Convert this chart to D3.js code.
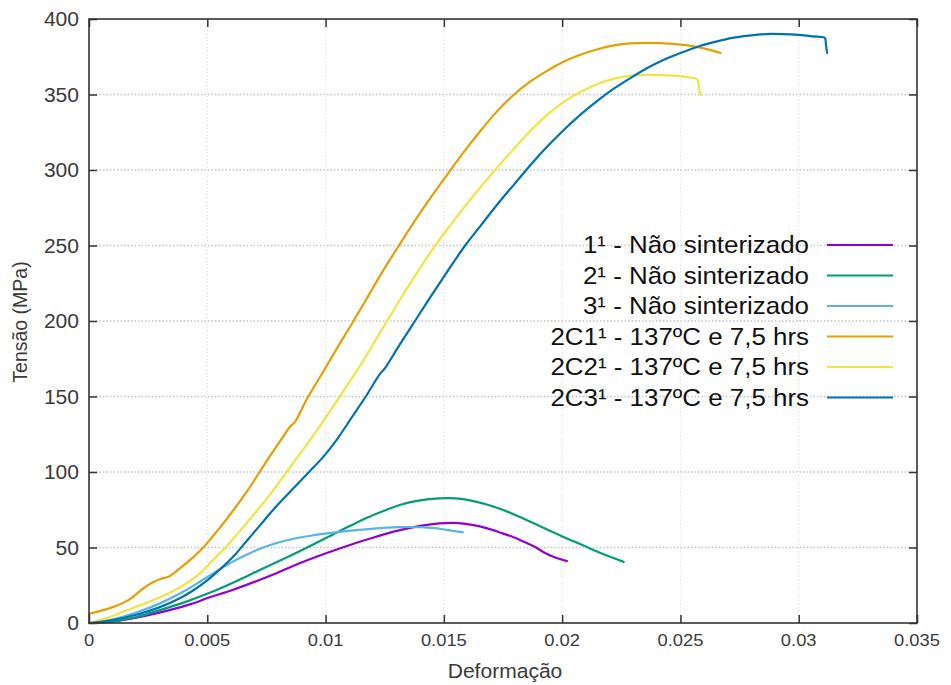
<!DOCTYPE html>
<html>
<head>
<meta charset="utf-8">
<script src="https://cdn.jsdelivr.net/npm/d3@7"></script>
<style>
  html, body { margin: 0; padding: 0; background: #fff; }
  svg { display: block; font-family: Arial, "Liberation Sans", sans-serif; }
</style>
</head>
<body>
<svg id="chart" width="951" height="685"></svg>
<script>
// ---- Data (strain, stress in MPa) ----
const seriesNames = [
  "1\u00b9 - Não sinterizado",
  "2\u00b9 - Não sinterizado",
  "3\u00b9 - Não sinterizado",
  "2C1\u00b9 - 137ºC e 7,5 hrs",
  "2C2\u00b9 - 137ºC e 7,5 hrs",
  "2C3\u00b9 - 137ºC e 7,5 hrs"
];
const seriesColors = ["#9400D3", "#009E73", "#56B4E9", "#E69F00", "#F0E442", "#0072B2"];

const s1 = [[0,0],[0.001,1],[0.002,3.5],[0.0034,8.5],[0.0043,12.5],[0.0051,17],[0.006,21.5],[0.0072,28.5],[0.008,33.5],[0.0089,39.5],[0.0099,45.5],[0.011,51.5],[0.012,56.5],[0.0131,61.3],[0.014,64.3],[0.0148,66],[0.0155,66.3],[0.0162,65],[0.0168,62.8],[0.0174,59.8],[0.018,56.5],[0.0185,53],[0.0189,50],[0.0192,47],[0.0196,44],[0.0202,41]];
const s2 = [[0,0],[0.001,1],[0.002,4],[0.003,8.5],[0.004,13.5],[0.0051,20],[0.0062,27.5],[0.0072,35],[0.0081,41.5],[0.0089,47.5],[0.0096,53],[0.0103,58.5],[0.011,64],[0.0118,70],[0.0125,74.5],[0.0131,78],[0.0138,80.7],[0.0148,82.5],[0.0155,82.5],[0.016,81.5],[0.0167,79],[0.0174,75.5],[0.0181,71],[0.0188,66],[0.0195,61],[0.0202,56],[0.0209,51.3],[0.0216,46.5],[0.0226,40.5]];
const s3 = [[0,0],[0.001,2.5],[0.002,7],[0.003,13],[0.0039,20],[0.0048,28.5],[0.0055,35.3],[0.0061,40.8],[0.0067,45.5],[0.0072,49],[0.0079,52.8],[0.0086,55.6],[0.0093,57.6],[0.0103,59.8],[0.0117,62],[0.0131,63.5],[0.0145,63],[0.0152,61.5],[0.0158,60]];
const s4 = [[0,6],[0.001,10.5],[0.0017,15.5],[0.0023,23],[0.0027,27],[0.003,29],[0.0034,31],[0.0039,37],[0.0044,43.5],[0.0048,49.5],[0.0055,62.5],[0.006,72.5],[0.0068,90],[0.0075,107],[0.0081,121],[0.0085,130],[0.0087,133],[0.0092,148],[0.01,169],[0.0106,185],[0.0112,200.5],[0.0118,216.5],[0.0124,232.5],[0.0131,250],[0.0138,267],[0.0145,283],[0.0151,296],[0.0158,311],[0.0165,325],[0.0172,338],[0.0179,349],[0.0186,358],[0.0194,366],[0.0201,372],[0.0208,376.5],[0.0215,380],[0.0222,382.5],[0.0229,383.8],[0.0236,384.2],[0.0247,383.5],[0.0257,381.5],[0.0267,377.5]];
const s5 = [[0,0],[0.0008,3.5],[0.0016,8.5],[0.0023,12.5],[0.003,17],[0.0036,21.5],[0.0042,27],[0.0047,33],[0.0052,41],[0.0058,50.5],[0.0063,59.5],[0.007,72.5],[0.0077,86],[0.0084,101],[0.0091,116],[0.0097,129],[0.0103,143],[0.0109,157],[0.0116,174],[0.0125,197.5],[0.0135,223],[0.0145,247],[0.0154,266],[0.0162,282],[0.017,297],[0.0179,313],[0.0186,325],[0.0194,337],[0.0201,345.5],[0.0208,352],[0.0215,357],[0.0222,360.5],[0.0229,362.5],[0.0236,363],[0.0247,362.5],[0.0253,361.5],[0.0257,360],[0.0258,353],[0.02585,349.5]];
const s6 = [[0,0],[0.001,2],[0.002,5.5],[0.003,10.5],[0.0038,16],[0.0044,21.5],[0.0049,27],[0.0055,35],[0.0061,44],[0.0067,55],[0.0073,66],[0.0079,77],[0.0086,88.5],[0.0093,100],[0.0099,110],[0.0105,122],[0.0111,136],[0.0117,150],[0.0123,165],[0.0125,168.5],[0.0131,183.5],[0.0138,200.5],[0.0145,217.5],[0.0152,234],[0.0159,250],[0.0166,264],[0.0173,278],[0.018,291],[0.0187,304],[0.0194,316],[0.0201,327],[0.0208,337],[0.0215,346],[0.0222,354],[0.0229,361],[0.0236,367.5],[0.0243,373],[0.025,377.5],[0.0258,382],[0.0265,385],[0.0272,387.5],[0.0279,389],[0.0286,390],[0.0293,390],[0.03,389.5],[0.0306,388.5],[0.0311,387.5],[0.03115,383],[0.0312,377.5]];
const allSeries = [s1, s2, s3, s4, s5, s6];

const xTicks = [0, 0.005, 0.01, 0.015, 0.02, 0.025, 0.03, 0.035];
const xTickLabels = ["0", "0.005", "0.01", "0.015", "0.02", "0.025", "0.03", "0.035"];
const yTicks = [0, 50, 100, 150, 200, 250, 300, 350, 400];
const xTitle = "Deformação";
const yTitle = "Tensão (MPa)";

// ---- Layout ----
const L = 89, R = 917, T = 19, B = 623;
const svg = d3.select("#chart");
const x = d3.scaleLinear().domain([0, 0.035]).range([L, R]);
const y = d3.scaleLinear().domain([0, 400]).range([B, T]);
const SX = 1.08;

// grid
const grid = svg.append("g");
grid.selectAll("line.gx").data(xTicks.slice(1, -1)).join("line")
  .attr("x1", d => x(d)).attr("x2", d => x(d)).attr("y1", T).attr("y2", B)
  .attr("stroke", "#e6e6e6").attr("stroke-width", 1.2).attr("stroke-dasharray", "1.5,2");
grid.selectAll("line.gy").data(yTicks.slice(1, -1)).join("line")
  .attr("x1", L).attr("x2", R).attr("y1", d => y(d)).attr("y2", d => y(d))
  .attr("stroke", "#c4c4c4").attr("stroke-width", 1.3).attr("stroke-dasharray", "1.5,2");

// axes (ticks inward, mirrored)
const tickLen = 8;
const axB = svg.append("g").attr("transform", `translate(0,${B})`)
  .call(d3.axisBottom(x).tickValues(xTicks).tickSizeInner(-tickLen).tickSizeOuter(0).tickFormat(() => ""));
const axT = svg.append("g").attr("transform", `translate(0,${T})`)
  .call(d3.axisTop(x).tickValues(xTicks).tickSizeInner(-tickLen).tickSizeOuter(0).tickFormat(() => ""));
const axL = svg.append("g").attr("transform", `translate(${L},0)`)
  .call(d3.axisLeft(y).tickValues(yTicks).tickSizeInner(-tickLen).tickSizeOuter(0).tickFormat(() => ""));
const axR = svg.append("g").attr("transform", `translate(${R},0)`)
  .call(d3.axisRight(y).tickValues(yTicks).tickSizeInner(-tickLen).tickSizeOuter(0).tickFormat(() => ""));
[axB, axT, axL, axR].forEach(a => {
  a.select(".domain").remove();
  a.selectAll("line").attr("stroke", "#333").attr("stroke-width", 1.5);
});

// tick labels
svg.append("g").selectAll("text").data(xTicks).join("text")
  .attr("transform", (d) => `translate(${x(d)},${646}) scale(${SX},1)`)
  .attr("text-anchor", "middle").attr("font-size", 17).attr("fill", "#3a3a3a")
  .text((d, i) => xTickLabels[i]);
svg.append("g").selectAll("text").data(yTicks).join("text")
  .attr("transform", d => `translate(${79},${y(d) + 7}) scale(${SX},1)`)
  .attr("text-anchor", "end").attr("font-size", 19.5).attr("fill", "#3a3a3a")
  .text(d => d);

// axis titles
svg.append("text").attr("transform", `translate(505,678) scale(${SX},1)`)
  .attr("text-anchor", "middle").attr("font-size", 19.5).attr("fill", "#3a3a3a").text(xTitle);
svg.append("text").attr("transform", `translate(27,322) rotate(-90)`)
  .attr("text-anchor", "middle").attr("font-size", 19.5).attr("fill", "#3a3a3a").text(yTitle);

// lines
const line = d3.line().x(d => x(d[0])).y(d => y(d[1])).curve(d3.curveCatmullRom.alpha(0.5));
svg.append("g").selectAll("path").data(allSeries).join("path")
  .attr("d", line).attr("fill", "none")
  .attr("stroke", (d, i) => seriesColors[i]).attr("stroke-width", 2.2)
  .attr("stroke-linejoin", "round").attr("stroke-linecap", "round");

// frame
svg.append("rect").attr("x", L).attr("y", T).attr("width", R - L).attr("height", B - T)
  .attr("fill", "none").attr("stroke", "#333").attr("stroke-width", 1.6);

// legend
const leg = svg.append("g");
const legY0 = 245, legDY = 30.5;
seriesNames.forEach((name, i) => {
  const yy = legY0 + i * legDY;
  leg.append("text").attr("transform", `translate(809,${yy + 8}) scale(${SX},1)`)
    .attr("text-anchor", "end").attr("font-size", 24).attr("fill", "#111").text(name);
  leg.append("line").attr("x1", 827).attr("x2", 893).attr("y1", yy).attr("y2", yy)
    .attr("stroke", seriesColors[i]).attr("stroke-width", 2.2);
});
</script>
</body>
</html>
